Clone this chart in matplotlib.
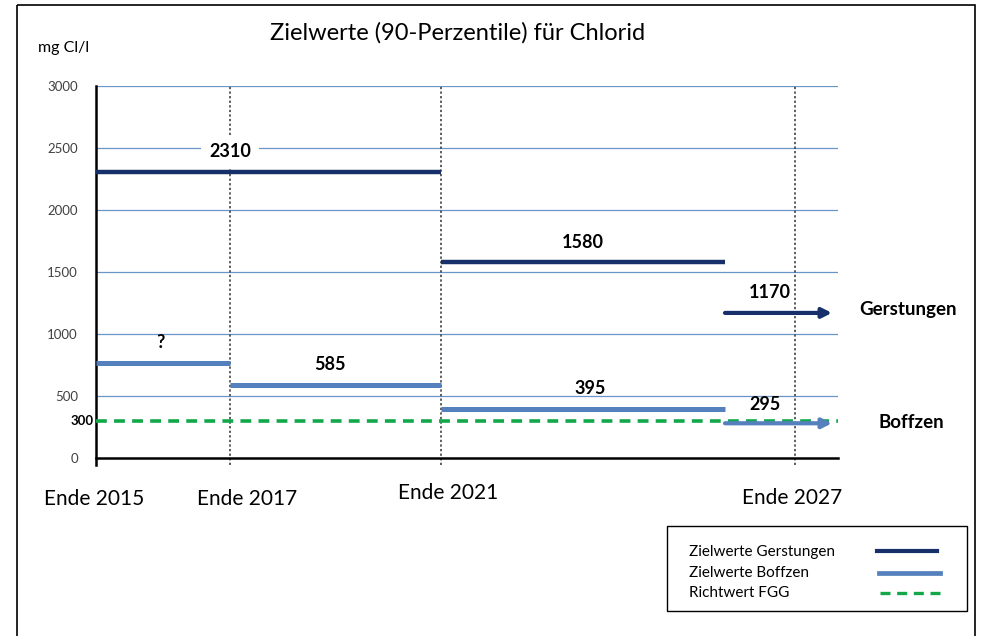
import numpy as np
import matplotlib.pyplot as plt
from matplotlib.patches import Rectangle

plt.rcParams['font.family'] = ['Lato', 'DejaVu Sans']

## Data
title = "Zielwerte (90-Perzentile) für Chlorid"
unit = "mg Cl/l"
period_labels = ["Ende 2015", "Ende 2017", "Ende 2021", "Ende 2027"]
period_pos = [0, 134, 345, 699]   # horizontal position of each period mark
seg_end = 629                      # end of 2021-2027 segments
arrow_end = 736
x_max = 742

gerst_vals = [2310, 1580, 1170]
boff_vals = [770, 585, 395, 280]
boff_text = ["?", "585", "395", "295"]
fgg_value = 300
y_ticks = [0, 500, 1000, 1500, 2000, 2500, 3000]

navy = '#17306a'
blue = '#5580be'
green = '#12a84a'
grid_c = '#6a95c8'

W, H = 981, 636
fig = plt.figure(figsize=(W/100, H/100), dpi=100)

## background axes in pixel coordinates for free text
bg = fig.add_axes([0, 0, 1, 1])
bg.set_xlim(0, W)
bg.set_ylim(H, 0)
bg.axis('off')
bg.add_patch(Rectangle((17, 5), 958, 700, fill=False, ec='black', lw=1.2))

## main axes
ax = fig.add_axes([96/W, (H-458)/H, (838-96)/W, (458-86)/H])
ax.set_xlim(0, x_max)
ax.set_ylim(0, 3000)
for s in ['top', 'right']:
    ax.spines[s].set_visible(False)
ax.spines['left'].set_linewidth(1.8)
ax.spines['bottom'].set_linewidth(1.8)
ax.spines['left'].set_bounds(-60, 3000)
ax.set_xticks([])
ax.set_yticks(y_ticks)
ax.set_yticklabels([str(v) for v in y_ticks], fontsize=9.5, color='#404040')
ax.tick_params(axis='y', length=0, pad=13)

for v in y_ticks[1:]:
    ax.axhline(v, color=grid_c, lw=0.9, zorder=1)

## vertical dotted lines
for p in period_pos[1:]:
    ax.plot([p, p], [-60, 3000], color='#333333', lw=1.1, ls=(0, (1.5, 1.5)), clip_on=False, zorder=2)

## FGG guideline
ax.plot([0, x_max], [fgg_value, fgg_value], color=green, lw=2.6, ls=(0, (3, 2)), zorder=3, clip_on=False)
ax.text(-2, fgg_value, str(fgg_value), ha='right', va='center', fontsize=9.5, fontweight='bold')

## Gerstungen
g_x = [(period_pos[0], period_pos[2]), (period_pos[2], seg_end)]
for (a, b), v in zip(g_x, gerst_vals[:2]):
    ax.plot([a, b], [v, v], color=navy, lw=3.2, solid_capstyle='butt', zorder=4)
ax.annotate('', xy=(arrow_end, gerst_vals[2]), xytext=(seg_end, gerst_vals[2]),
            arrowprops=dict(arrowstyle='-|>', color=navy, lw=3, mutation_scale=14, shrinkA=0, shrinkB=0), zorder=4)

## Boffzen
b_x = [(period_pos[0], period_pos[1]), (period_pos[1], period_pos[2]), (period_pos[2], seg_end)]
for (a, b), v in zip(b_x, boff_vals[:3]):
    ax.plot([a, b], [v, v], color=blue, lw=3.6, solid_capstyle='butt', zorder=4)
ax.annotate('', xy=(arrow_end, boff_vals[3]), xytext=(seg_end, boff_vals[3]),
            arrowprops=dict(arrowstyle='-|>', color=blue, lw=3, mutation_scale=14, shrinkA=0, shrinkB=0), zorder=4)

## value labels
lbl = dict(ha='center', va='center', fontsize=13, fontweight='bold', zorder=6)
ax.text(134, gerst_vals[0] + 160, str(gerst_vals[0]), bbox=dict(fc='white', ec='none', pad=6), **lbl)
ax.text(487, gerst_vals[1] + 160, str(gerst_vals[1]), **lbl)
ax.text(674, gerst_vals[2] + 165, str(gerst_vals[2]), **lbl)
ax.text(64, boff_vals[0] + 165, boff_text[0], **lbl)
ax.text(234, boff_vals[1] + 165, boff_text[1], **lbl)
ax.text(494, boff_vals[2] + 165, boff_text[2], **lbl)
ax.text(669, boff_vals[3] + 150, boff_text[3], **lbl)

## station labels
bg.text(908, 310, "Gerstungen", ha='center', va='center', fontsize=13.5, fontweight='bold')
bg.text(911, 423, "Boffzen", ha='center', va='center', fontsize=13.5, fontweight='bold')

## period labels
lab_x = [94, 247, 448, 792]
lab_y = [499, 499, 493, 498]
for t, x, y in zip(period_labels, lab_x, lab_y):
    bg.text(x, y, t, ha='center', va='center', fontsize=15)

## titles
bg.text(458, 33, title, ha='center', va='center', fontsize=17)
bg.text(64, 48, unit, ha='center', va='center', fontsize=11.5)

## legend box
bg.add_patch(Rectangle((667, 526), 300, 85, fill=False, ec='black', lw=1))
leg_names = ["Zielwerte Gerstungen", "Zielwerte Boffzen", "Richtwert FGG"]
leg_y = [552, 573, 593]
bg.text(689, leg_y[0], leg_names[0], va='center', fontsize=11)
bg.text(689, leg_y[1], leg_names[1], va='center', fontsize=11)
bg.text(689, leg_y[2], leg_names[2], va='center', fontsize=11)
bg.plot([877, 937], [leg_y[0] - 1, leg_y[0] - 1], color=navy, lw=3)
bg.plot([879, 940], [leg_y[1], leg_y[1]], color=blue, lw=3.4)
bg.plot([880, 940], [leg_y[2], leg_y[2]], color=green, lw=2.4, ls=(0, (3, 2)))

fig.savefig('out.png', dpi=100)
